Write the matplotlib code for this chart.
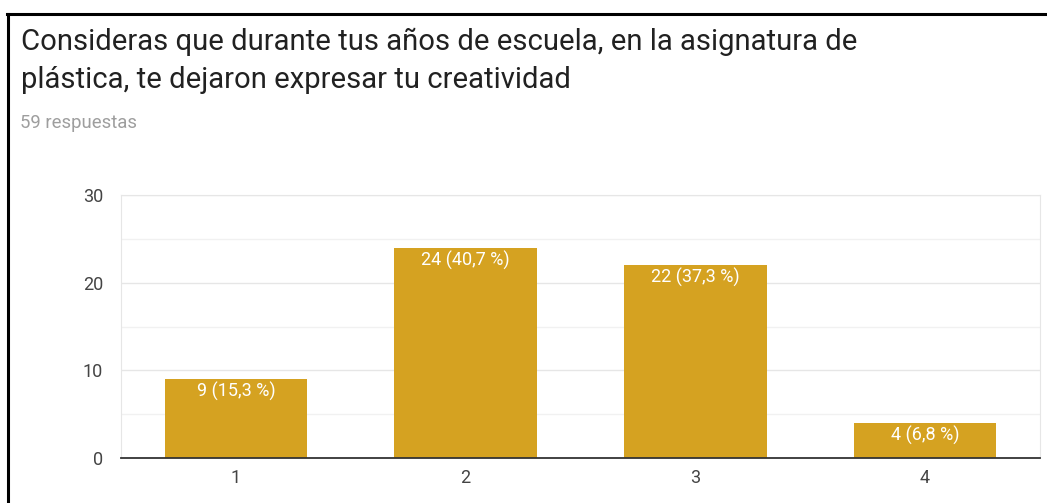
import matplotlib
matplotlib.use("Agg")
import matplotlib.pyplot as plt
from matplotlib.lines import Line2D
from matplotlib.ticker import MultipleLocator

# survey answers
categories = ["1", "2", "3", "4"]
counts = [9, 24, 22, 4]
bar_labels = ["9 (15,3 %)", "24 (40,7 %)", "22 (37,3 %)", "4 (6,8 %)"]
title_lines = ["Consideras que durante tus años de escuela, en la asignatura de",
               "plástica, te dejaron expresar tu creatividad"]
subtitle = "59 respuestas"

W, H = 1047, 503
fig = plt.figure(figsize=(W / 100, H / 100), dpi=100)
fig.patch.set_facecolor("white")
plt.rcParams["font.family"] = ["Roboto", "DejaVu Sans"]

# black frame (left + top)
fig.add_artist(Line2D([8 / W, 8 / W], [0, 1 - 14 / H], color="black", lw=2.2, transform=fig.transFigure))
fig.add_artist(Line2D([7 / W, 1], [1 - 14 / H, 1 - 14 / H], color="black", lw=2.2, transform=fig.transFigure))

# title, two lines at the baselines seen in the screenshot
for line, base in zip(title_lines, [50, 88]):
    fig.text(21 / W, 1 - base / H, line, fontsize=21.1, color="#212121",
             va="baseline", ha="left")
fig.text(20 / W, 1 - 128 / H, subtitle, fontsize=13.3, color="#9e9e9e", va="baseline")

ax = fig.add_axes([121 / W, 1 - 458 / H, (1040 - 121) / W, (458 - 195) / H])
x = range(len(categories))
bars = ax.bar(x, counts, width=0.62, color="#d5a221", zorder=3)

for b, lab in zip(bars, bar_labels):
    ax.annotate(lab, (b.get_x() + b.get_width() / 2, b.get_height()),
                xytext=(0, -9), textcoords="offset points", ha="center", va="center",
                color="white", fontsize=13, zorder=4)

ax.set_xlim(-0.5, 3.5)
ax.set_ylim(0, 30)
ax.set_xticks(list(x))
ax.set_xticklabels(categories)
ax.yaxis.set_major_locator(MultipleLocator(10))
ax.yaxis.set_minor_locator(MultipleLocator(5))
ax.grid(axis="y", which="major", color="#e6e6e6", lw=1.0, zorder=0)
ax.grid(axis="y", which="minor", color="#f1f1f1", lw=1.0, zorder=0)
ax.tick_params(axis="both", which="both", length=0, labelsize=13, colors="#444444")
ax.tick_params(axis="y", pad=13)
ax.tick_params(axis="x", pad=8)
for s in ["left", "right", "top"]:
    ax.spines[s].set_color("#e6e6e6")
ax.spines["bottom"].set_color("#333333")
ax.spines["bottom"].set_linewidth(1.3)
ax.spines["bottom"].set_zorder(5)

fig.savefig("out.png", dpi=100)
